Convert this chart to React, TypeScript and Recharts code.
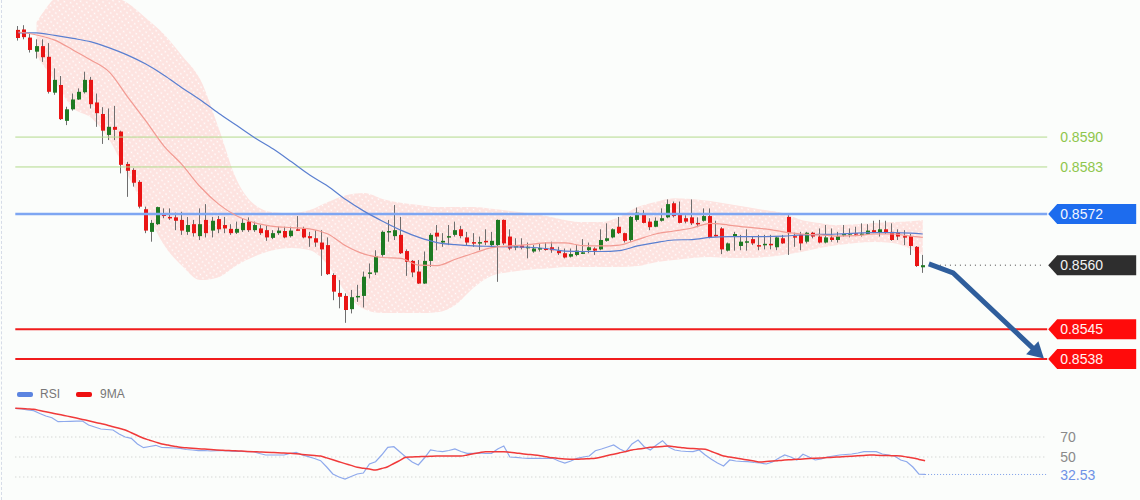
import { ComposedChart, Bar, Line, Area, XAxis, YAxis, ReferenceLine } from 'recharts';

// candles, oldest first
const opens = [
  0.86151, 0.86152, 0.86133, 0.86100, 0.86113, 0.86088, 0.86004, 0.86022, 0.85938, 0.85965,
  0.85988, 0.86005, 0.86034, 0.85981, 0.85954, 0.85905, 0.85924, 0.85913, 0.85837, 0.85823,
  0.85795, 0.85731, 0.85678, 0.85696, 0.85721, 0.85713, 0.85712, 0.85706, 0.85678, 0.85696,
  0.85668, 0.85706, 0.85681, 0.85708, 0.85694, 0.85685, 0.85676, 0.85682, 0.85702, 0.85682,
  0.85686, 0.85682, 0.85664, 0.85675, 0.85680, 0.85668, 0.85684, 0.85685, 0.85668, 0.85663,
  0.85653, 0.85647, 0.85577, 0.85535, 0.85528, 0.85497, 0.85526, 0.85528, 0.85582, 0.85583,
  0.85624, 0.85678, 0.85668, 0.85671, 0.85633, 0.85610, 0.85585, 0.85557, 0.85610, 0.85676,
  0.85653, 0.85665, 0.85671, 0.85684, 0.85665, 0.85654, 0.85653, 0.85657, 0.85647, 0.85647,
  0.85706, 0.85667, 0.85642, 0.85646, 0.85642, 0.85632, 0.85639, 0.85639, 0.85642, 0.85634,
  0.85628, 0.85620, 0.85624, 0.85629, 0.85635, 0.85639, 0.85637, 0.85657, 0.85665, 0.85690,
  0.85675, 0.85659, 0.85706, 0.85720, 0.85702, 0.85690, 0.85704, 0.85712, 0.85745, 0.85720,
  0.85710, 0.85712, 0.85699, 0.85704, 0.85715, 0.85671, 0.85686, 0.85634, 0.85667, 0.85645,
  0.85654, 0.85661, 0.85647, 0.85648, 0.85650, 0.85642, 0.85663, 0.85713, 0.85668, 0.85671,
  0.85655, 0.85676, 0.85667, 0.85653, 0.85665, 0.85659, 0.85671, 0.85672, 0.85675, 0.85673,
  0.85673, 0.85682, 0.85676, 0.85684, 0.85678, 0.85676, 0.85668, 0.85668, 0.85643, 0.85595,
];
const highs = [
  0.86160, 0.86162, 0.86143, 0.86129, 0.86129, 0.86120, 0.86061, 0.86043, 0.85971, 0.86002,
  0.86014, 0.86053, 0.86041, 0.86002, 0.85970, 0.85967, 0.85973, 0.85915, 0.85842, 0.85827,
  0.85799, 0.85737, 0.85706, 0.85737, 0.85733, 0.85733, 0.85723, 0.85725, 0.85713, 0.85706,
  0.85733, 0.85743, 0.85713, 0.85715, 0.85713, 0.85696, 0.85702, 0.85710, 0.85712, 0.85702,
  0.85694, 0.85692, 0.85682, 0.85690, 0.85690, 0.85690, 0.85715, 0.85690, 0.85678, 0.85682,
  0.85682, 0.85665, 0.85581, 0.85565, 0.85534, 0.85542, 0.85554, 0.85585, 0.85604, 0.85635,
  0.85681, 0.85706, 0.85741, 0.85713, 0.85637, 0.85612, 0.85612, 0.85632, 0.85675, 0.85694,
  0.85675, 0.85694, 0.85702, 0.85692, 0.85678, 0.85675, 0.85667, 0.85684, 0.85678, 0.85707,
  0.85707, 0.85684, 0.85663, 0.85663, 0.85653, 0.85647, 0.85651, 0.85653, 0.85655, 0.85643,
  0.85639, 0.85639, 0.85647, 0.85661, 0.85653, 0.85642, 0.85684, 0.85698, 0.85686, 0.85713,
  0.85676, 0.85715, 0.85735, 0.85729, 0.85710, 0.85712, 0.85733, 0.85754, 0.85749, 0.85749,
  0.85717, 0.85754, 0.85712, 0.85733, 0.85733, 0.85704, 0.85689, 0.85653, 0.85678, 0.85671,
  0.85684, 0.85667, 0.85671, 0.85671, 0.85671, 0.85668, 0.85671, 0.85717, 0.85676, 0.85678,
  0.85678, 0.85678, 0.85686, 0.85694, 0.85686, 0.85678, 0.85694, 0.85686, 0.85690, 0.85698,
  0.85696, 0.85704, 0.85706, 0.85704, 0.85698, 0.85684, 0.85682, 0.85673, 0.85645, 0.85624,
];
const lows = [
  0.86126, 0.86129, 0.86098, 0.86084, 0.86076, 0.86002, 0.85999, 0.85940, 0.85928, 0.85962,
  0.85987, 0.86002, 0.85967, 0.85924, 0.85884, 0.85893, 0.85893, 0.85815, 0.85760, 0.85784,
  0.85733, 0.85675, 0.85655, 0.85694, 0.85710, 0.85706, 0.85682, 0.85671, 0.85671, 0.85667,
  0.85659, 0.85665, 0.85665, 0.85675, 0.85675, 0.85671, 0.85673, 0.85678, 0.85678, 0.85678,
  0.85671, 0.85657, 0.85661, 0.85671, 0.85663, 0.85665, 0.85681, 0.85663, 0.85643, 0.85643,
  0.85575, 0.85577, 0.85518, 0.85499, 0.85465, 0.85487, 0.85514, 0.85501, 0.85569, 0.85577,
  0.85620, 0.85655, 0.85659, 0.85626, 0.85575, 0.85572, 0.85556, 0.85556, 0.85596, 0.85635,
  0.85643, 0.85647, 0.85667, 0.85663, 0.85647, 0.85643, 0.85635, 0.85647, 0.85645, 0.85561,
  0.85647, 0.85635, 0.85635, 0.85637, 0.85616, 0.85629, 0.85632, 0.85634, 0.85629, 0.85624,
  0.85616, 0.85618, 0.85621, 0.85626, 0.85628, 0.85624, 0.85635, 0.85655, 0.85663, 0.85673,
  0.85653, 0.85655, 0.85702, 0.85698, 0.85682, 0.85689, 0.85702, 0.85710, 0.85712, 0.85698,
  0.85698, 0.85694, 0.85689, 0.85702, 0.85663, 0.85667, 0.85626, 0.85632, 0.85634, 0.85635,
  0.85634, 0.85647, 0.85635, 0.85637, 0.85637, 0.85635, 0.85650, 0.85624, 0.85643, 0.85635,
  0.85651, 0.85663, 0.85651, 0.85651, 0.85655, 0.85653, 0.85667, 0.85665, 0.85668, 0.85667,
  0.85671, 0.85675, 0.85667, 0.85673, 0.85657, 0.85659, 0.85647, 0.85624, 0.85596, 0.85582,
];
const closes = [
  0.86132, 0.86134, 0.86104, 0.86113, 0.86087, 0.86006, 0.86034, 0.85942, 0.85965, 0.85988,
  0.86006, 0.86034, 0.85977, 0.85956, 0.85915, 0.85924, 0.85917, 0.85835, 0.85821, 0.85793,
  0.85737, 0.85681, 0.85699, 0.85736, 0.85715, 0.85711, 0.85704, 0.85681, 0.85694, 0.85675,
  0.85696, 0.85675, 0.85704, 0.85684, 0.85686, 0.85675, 0.85685, 0.85699, 0.85682, 0.85694,
  0.85675, 0.85665, 0.85675, 0.85681, 0.85665, 0.85681, 0.85682, 0.85665, 0.85663, 0.85653,
  0.85637, 0.85579, 0.85538, 0.85526, 0.85495, 0.85525, 0.85528, 0.85573, 0.85583, 0.85621,
  0.85678, 0.85680, 0.85682, 0.85628, 0.85608, 0.85583, 0.85557, 0.85610, 0.85671, 0.85667,
  0.85657, 0.85668, 0.85682, 0.85668, 0.85653, 0.85653, 0.85654, 0.85655, 0.85657, 0.85706,
  0.85651, 0.85639, 0.85645, 0.85641, 0.85643, 0.85639, 0.85640, 0.85638, 0.85635, 0.85628,
  0.85618, 0.85626, 0.85634, 0.85630, 0.85642, 0.85634, 0.85659, 0.85663, 0.85684, 0.85675,
  0.85657, 0.85713, 0.85723, 0.85699, 0.85689, 0.85704, 0.85710, 0.85743, 0.85715, 0.85699,
  0.85702, 0.85698, 0.85698, 0.85715, 0.85665, 0.85668, 0.85637, 0.85651, 0.85673, 0.85655,
  0.85656, 0.85651, 0.85646, 0.85650, 0.85649, 0.85665, 0.85651, 0.85675, 0.85667, 0.85651,
  0.85676, 0.85667, 0.85653, 0.85665, 0.85659, 0.85668, 0.85673, 0.85675, 0.85674, 0.85674,
  0.85681, 0.85676, 0.85684, 0.85676, 0.85659, 0.85667, 0.85667, 0.85645, 0.85598, 0.85600,
];

// overlays as [candle index, price]
const maFast = [
  [0, 0.86146], [3, 0.86139], [6, 0.86127], [9, 0.86104], [12, 0.86080], [15, 0.86052], [18, 0.85994],
  [21, 0.85938], [24, 0.85879], [27, 0.85835], [30, 0.85783], [33, 0.85743], [36, 0.85715], [39, 0.85699],
  [42, 0.85691], [45, 0.85688], [48, 0.85685], [51, 0.85673], [54, 0.85645], [57, 0.85626], [60, 0.85618],
  [63, 0.85616], [66, 0.85600], [69, 0.85599], [72, 0.85614], [75, 0.85628], [78, 0.85641], [81, 0.85645],
  [84, 0.85648], [87, 0.85652], [90, 0.85652], [93, 0.85646], [96, 0.85645], [99, 0.85647], [102, 0.85660],
  [105, 0.85673], [108, 0.85680], [111, 0.85687], [114, 0.85698], [117, 0.85694], [120, 0.85689],
  [123, 0.85685], [126, 0.85678], [129, 0.85673], [132, 0.85671], [135, 0.85668], [138, 0.85669],
  [141, 0.85673], [144, 0.85673], [147, 0.85668], [149, 0.85665],
];
const maSlow = [
  [0, 0.86144], [3, 0.86144], [6, 0.86138], [9, 0.86131], [12, 0.86123], [15, 0.86109], [18, 0.86092],
  [21, 0.86071], [24, 0.86045], [27, 0.86015], [30, 0.85987], [33, 0.85956], [36, 0.85927], [39, 0.85898],
  [42, 0.85872], [45, 0.85842], [48, 0.85811], [51, 0.85785], [54, 0.85753], [57, 0.85726], [60, 0.85703],
  [63, 0.85682], [66, 0.85665], [69, 0.85653], [72, 0.85648], [75, 0.85645], [78, 0.85644], [81, 0.85643],
  [84, 0.85642], [87, 0.85639], [90, 0.85633], [93, 0.85632], [96, 0.85632], [99, 0.85634], [102, 0.85645],
  [105, 0.85653], [108, 0.85659], [111, 0.85660], [114, 0.85665], [117, 0.85667], [120, 0.85667],
  [123, 0.85667], [126, 0.85668], [129, 0.85671], [132, 0.85672], [135, 0.85673], [138, 0.85675],
  [141, 0.85676], [144, 0.85676], [147, 0.85675], [149, 0.85673],
];
const bandUpper = [
  [3, 0.86169], [6, 0.86226], [9, 0.86249], [12, 0.86256], [15, 0.86233], [18, 0.86214], [21, 0.86179],
  [24, 0.86141], [27, 0.86090], [30, 0.86034], [33, 0.85921], [36, 0.85799], [39, 0.85741], [42, 0.85724],
  [45, 0.85722], [48, 0.85729], [51, 0.85748], [54, 0.85764], [57, 0.85769], [60, 0.85755], [63, 0.85746],
  [66, 0.85741], [69, 0.85736], [72, 0.85736], [75, 0.85736], [78, 0.85732], [81, 0.85727], [84, 0.85722],
  [87, 0.85715], [90, 0.85706], [93, 0.85701], [96, 0.85701], [99, 0.85713], [102, 0.85736], [105, 0.85748],
  [108, 0.85757], [111, 0.85755], [114, 0.85750], [117, 0.85743], [120, 0.85736], [123, 0.85729],
  [126, 0.85722], [129, 0.85706], [132, 0.85699], [135, 0.85694], [138, 0.85696], [141, 0.85699],
  [144, 0.85701], [147, 0.85703], [149, 0.85706],
];
const bandLower = [
  [3, 0.86090], [6, 0.86030], [9, 0.85968], [12, 0.85945], [15, 0.85893], [18, 0.85811], [21, 0.85729],
  [24, 0.85647], [27, 0.85598], [30, 0.85565], [33, 0.85572], [36, 0.85600], [39, 0.85621], [42, 0.85635],
  [45, 0.85640], [48, 0.85635], [51, 0.85600], [54, 0.85535], [57, 0.85497], [60, 0.85488], [63, 0.85488],
  [66, 0.85488], [69, 0.85490], [72, 0.85507], [75, 0.85547], [78, 0.85575], [81, 0.85584], [84, 0.85589],
  [87, 0.85592], [90, 0.85596], [93, 0.85596], [96, 0.85596], [99, 0.85596], [102, 0.85598], [105, 0.85607],
  [108, 0.85612], [111, 0.85617], [114, 0.85619], [117, 0.85617], [120, 0.85617], [123, 0.85619],
  [126, 0.85624], [129, 0.85631], [132, 0.85640], [135, 0.85647], [138, 0.85652], [141, 0.85654],
  [144, 0.85652], [147, 0.85638], [149, 0.85624],
];
const arrowPath = [[150, 0.85603], [154, 0.85582], [168, 0.85394]];

const rsi = [
  98.7, 98, 97, 96.3, 93.5, 91, 89.3, 85.3, 85.5, 85.7,
  85.8, 86, 82, 80, 78, 77.5, 77, 73, 70, 68.7,
  63, 59.3, 60.5, 61.7, 59.5, 59.3, 59, 58.7, 57.5, 57,
  56.3, 56.5, 56, 56.3, 56.3, 56, 55.5, 55.6, 55.3, 55.3,
  53.5, 52, 52, 52, 52, 53.5, 54.7, 52, 50.3, 48.5,
  46.3, 40, 33, 30, 28, 30.5, 33, 34, 43, 45.3,
  52, 59.7, 60.3, 55, 49.7, 45, 42, 49, 57, 56,
  55.3, 56.5, 58, 55.5, 53.7, 53.7, 54, 53.5, 53.7, 58,
  61, 50, 49.7, 49, 48.7, 48.7, 48.7, 48.5, 48.7, 46,
  44, 46, 48.7, 50, 51, 56.3, 58, 60, 62, 58,
  55.3, 63, 67, 60.3, 57, 62, 66.3, 60, 57, 56,
  55.5, 55.3, 57, 52, 47.7, 44, 41, 47, 46, 45.5,
  45.3, 44.5, 44, 43, 45, 48.7, 52, 50, 47, 52.7,
  50, 47, 48, 50, 51, 52, 52.5, 53, 54, 55.3,
  55.3, 55.3, 53, 52, 51, 47, 45.3, 40, 32.8, 32.53,
];
const rsiMa = [
  98.7, 98.5, 98.1, 97.7, 96.5, 95.2, 94, 92.8, 91.5, 90.3,
  89, 87.6, 86.2, 84.8, 83.4, 82, 80.3, 78.7, 77, 74.3,
  71.5, 68.7, 66.8, 64.9, 63, 61.9, 60.8, 59.7, 59.2, 58.8,
  58.3, 57.9, 57.4, 57, 56.7, 56.4, 56.2, 55.9, 55.6, 55.3,
  55, 54.8, 54.5, 54.2, 54, 53.7, 53.2, 52.6, 52.1, 51.5,
  51, 49.1, 47.2, 45.3, 43.4, 41.6, 39.7, 38.8, 37.9, 37,
  38.5, 40.3, 43.5, 46.6, 49.7, 50, 50.3, 50.5, 50.8, 51,
  51, 51, 51, 51, 52, 53.2, 54.3, 55.3, 55.3, 55.3,
  55.3, 54.7, 54.1, 53.2, 52.6, 52, 51.2, 50.2, 49.2, 48.5,
  48, 47.8, 47.7, 48, 48.3, 48.7, 50.1, 51.5, 52.8, 54.2,
  55.6, 57, 57.9, 58.8, 59.7, 60.1, 60.6, 61, 60.2, 59.5,
  58.7, 58.4, 58, 57.7, 55.5, 53.2, 51, 50, 48.9, 47.9,
  46.9, 46, 45, 45.5, 45.9, 46.4, 46.9, 47.3, 47.7, 48,
  48.4, 48.7, 49, 49.4, 49.7, 50.1, 50.4, 50.8, 51.2, 51.6,
  52, 51.8, 51.6, 51.4, 51.2, 51, 50, 49, 47.6, 46.3,
];

const FONT = '"Liberation Sans", Arial, sans-serif';
const SLOTS = 170; // candles + empty room on the right for the projection
const MARGIN = { top: 0, right: 92.8, bottom: 0, left: 15.3 };
const LAST = opens.length - 1;

const toMap = (pairs: number[][]) => new Map(pairs.map(([i, v]) => [i, v]));
const upMap = toMap(bandUpper);
const loMap = toMap(bandLower);
const fastMap = toMap(maFast);
const slowMap = toMap(maSlow);
const arrowMap = toMap(arrowPath);

const rows = Array.from({ length: SLOTS }, (_, i) => {
  const row: any = { i };
  if (i < opens.length) {
    row.o = opens[i];
    row.h = highs[i];
    row.l = lows[i];
    row.c = closes[i];
    row.range = [lows[i], highs[i]];
  }
  row.band = upMap.has(i) ? [loMap.get(i), upMap.get(i)] : [null, null];
  row.fast = fastMap.get(i) ?? null;
  row.slow = slowMap.get(i) ?? null;
  row.arrow = arrowMap.get(i) ?? null;
  return row;
});

const rsiRows = Array.from({ length: SLOTS }, (_, i) => ({
  i,
  rsi: rsi[i] ?? null,
  ma: rsiMa[i] ?? null,
}));

const Candle = (props: any) => {
  const { x, y, width, height, payload } = props;
  if (!payload || payload.o == null || x == null) return <g />;
  const { o, h, l, c } = payload;
  const top = Math.min(y, y + height);
  const span = Math.abs(height);
  const k = h - l > 0 ? span / (h - l) : 0;
  const py = (v: number) => top + (h - v) * k;
  const bodyTop = py(Math.max(o, c));
  const bodyH = Math.max(1.5, py(Math.min(o, c)) - bodyTop);
  const cx = Math.round(x + width / 2);
  const up = c > o;
  return (
    <g>
      <rect x={cx - 1} y={top} width={1} height={span} fill="#6e6e6e" />
      <rect x={cx - 2} y={bodyTop} width={4} height={bodyH} fill={up ? '#1e7a22' : '#ea1515'} />
    </g>
  );
};

const PriceTag = ({ viewBox, text, bg, color }: any) => {
  if (!viewBox) return null;
  const x0 = viewBox.x + viewBox.width + 1;
  const y0 = viewBox.y;
  return (
    <g>
      {bg && (
        <path d={`M${x0},${y0} L${x0 + 9},${y0 - 10} H${x0 + 88} V${y0 + 10} H${x0 + 9} Z`} fill={bg} />
      )}
      <text x={x0 + 12} y={y0} dy="0.36em" fill={color} fontSize={14} fontFamily={FONT}>
        {text}
      </text>
    </g>
  );
};

const ArrowHead = (props: any) => {
  const { cx, cy, payload, index } = props;
  if (cx == null || cy == null || payload?.i !== arrowPath[arrowPath.length - 1][0]) {
    return <g key={`ad-${index}`} />;
  }
  const co = 0.73;
  const si = 0.68;
  const bx = cx - 8 * co;
  const by = cy - 8 * si;
  const pts = [
    [cx + 8 * co, cy + 8 * si],
    [bx - 9 * si, by + 9 * co],
    [bx + 9 * si, by - 9 * co],
  ];
  return <polygon key={`ad-${index}`} points={pts.map(p => p.join(',')).join(' ')} fill="#2f5e9c" />;
};

const levels = [
  { y: 0.8590, stroke: '#b3da8c', width: 1, color: '#8fc64c' },
  { y: 0.8583, stroke: '#b3da8c', width: 1, color: '#8fc64c' },
  { y: 0.8572, stroke: '#7ea6f2', width: 2.5, color: '#f2f5ff', bg: '#1d6cee' },
  { y: 0.8560, stroke: 'transparent', width: 0, color: '#f2f2f2', bg: '#2e2e2e' },
  { y: 0.8545, stroke: '#f01c1c', width: 2, color: '#fff2f2', bg: '#ff0b0b' },
  { y: 0.8538, stroke: '#f01c1c', width: 2, color: '#fff2f2', bg: '#ff0b0b' },
];

export default function App() {
  return (
    <div
      style={{
        position: 'absolute', left: 0, top: 0, width: 1140, height: 500,
        background: '#fbfdfb', overflow: 'hidden', fontFamily: FONT,
      }}
    >
      <div style={{ position: 'absolute', left: 1, top: 0, height: 500, borderLeft: '1px dashed #d6dce8' }} />

      <div style={{ position: 'absolute', left: 0, top: 0 }}>
        <ComposedChart width={1140} height={375} data={rows} margin={MARGIN}>
          <defs>
            <pattern id="bbDots" width="4.5" height="4.5" patternUnits="userSpaceOnUse" patternTransform="rotate(-35)">
              <rect width="4.5" height="4.5" fill="#fde3e0" />
              <circle cx="2.25" cy="2.25" r="0.8" fill="#ffffff" />
            </pattern>
          </defs>
          <XAxis dataKey="i" type="category" hide />
          <YAxis type="number" hide domain={[0.853428, 0.86221]} allowDataOverflow />
          <Area
            dataKey="band"
            type="monotone"
            stroke="none"
            fill="url(#bbDots)"
            fillOpacity={1}
            connectNulls
            isAnimationActive={false}
          />
          {levels.map(lv => (
            <ReferenceLine
              key={lv.y}
              y={lv.y}
              stroke={lv.stroke}
              strokeWidth={lv.width}
              label={(p: any) => (
                <PriceTag viewBox={p.viewBox} text={lv.y.toFixed(4)} bg={lv.bg} color={lv.color} />
              )}
            />
          ))}
          <ReferenceLine
            segment={[{ x: LAST + 2, y: closes[LAST] }, { x: SLOTS - 1, y: closes[LAST] }]}
            stroke="#444"
            strokeDasharray="1 4"
          />
          <Line dataKey="slow" type="monotone" stroke="#5a7fd0" strokeWidth={1.2} dot={false} connectNulls isAnimationActive={false} />
          <Line dataKey="fast" type="monotone" stroke="#f29a92" strokeWidth={1.2} dot={false} connectNulls isAnimationActive={false} />
          <Bar dataKey="range" barSize={4} shape={Candle} isAnimationActive={false} />
          <Line
            dataKey="arrow"
            type="linear"
            stroke="#2f5e9c"
            strokeWidth={5}
            connectNulls
            dot={ArrowHead}
            activeDot={false}
            isAnimationActive={false}
          />
        </ComposedChart>
      </div>

      <div style={{ position: 'absolute', left: 0, top: 380 }}>
        <ComposedChart width={1140} height={120} data={rsiRows} margin={MARGIN}>
          <XAxis dataKey="i" type="category" hide />
          <YAxis type="number" hide domain={[7, 127]} allowDataOverflow />
          <ReferenceLine
            y={70}
            stroke="#c6c6c6"
            strokeDasharray="1 3"
            label={(p: any) => <PriceTag viewBox={p.viewBox} text="70" color="#8a8a8a" />}
          />
          <ReferenceLine
            y={50}
            stroke="#c6c6c6"
            strokeDasharray="1 3"
            label={(p: any) => <PriceTag viewBox={p.viewBox} text="50" color="#8a8a8a" />}
          />
          <ReferenceLine segment={[{ x: 0, y: 30 }, { x: LAST, y: 30 }]} stroke="#c6c6c6" strokeDasharray="1 3" />
          <ReferenceLine
            segment={[{ x: LAST, y: rsi[LAST] }, { x: SLOTS - 1, y: rsi[LAST] }]}
            stroke="#7d9ee8"
            strokeDasharray="1 2"
          />
          <ReferenceLine
            y={rsi[LAST]}
            stroke="transparent"
            label={(p: any) => <PriceTag viewBox={p.viewBox} text={rsi[LAST].toFixed(2)} color="#6f92e6" />}
          />
          <Line dataKey="rsi" type="linear" stroke="#8ea9ec" strokeWidth={1.2} dot={false} isAnimationActive={false} />
          <Line dataKey="ma" type="monotone" stroke="#f03a3a" strokeWidth={1.5} dot={false} isAnimationActive={false} />
        </ComposedChart>
      </div>

      <div
        style={{
          position: 'absolute', left: 17, top: 387, display: 'flex', alignItems: 'center',
          fontSize: 12, color: '#777',
        }}
      >
        <span style={{ display: 'inline-block', width: 16, height: 5, borderRadius: 2, background: '#5b84e0', marginRight: 7 }} />
        RSI
        <span style={{ display: 'inline-block', width: 16, height: 5, borderRadius: 2, background: '#ee1010', margin: '0 8px 0 16px' }} />
        9MA
      </div>
    </div>
  );
}
